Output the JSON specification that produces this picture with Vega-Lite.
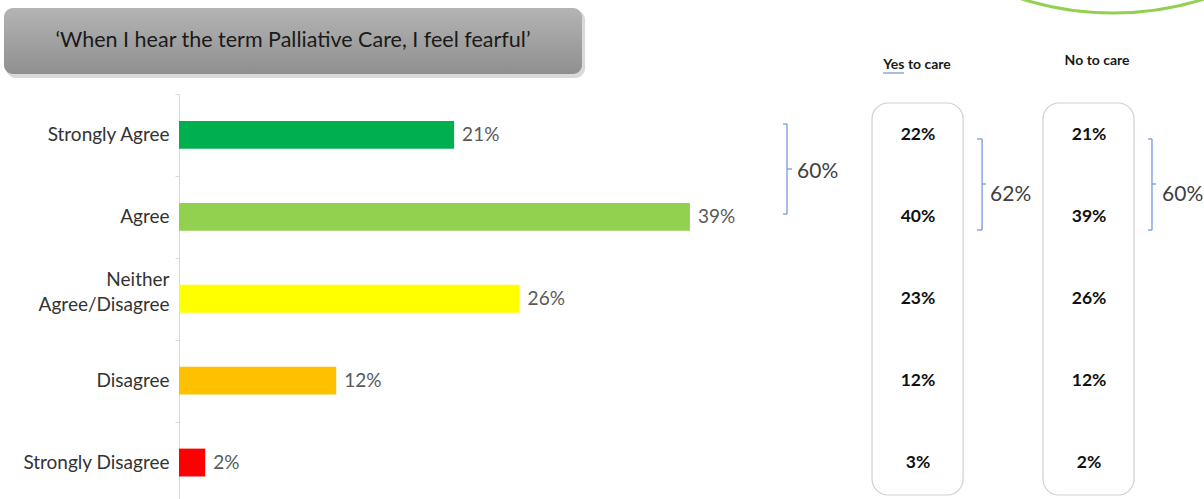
{
  "$schema": "https://vega.github.io/schema/vega-lite/v6.json",
  "width": 1025,
  "height": 499,
  "autosize": {"type": "none"},
  "padding": {"left": 179, "top": 0, "right": 0, "bottom": 0},
  "background": "white",
  "config": {"view": {"stroke": null}, "font": "Lato"},
  "datasets": {
    "overall": [
      {"response": "Strongly Agree", "pct": 21},
      {"response": "Agree", "pct": 39},
      {"response": "Neither Agree/Disagree", "pct": 26},
      {"response": "Disagree", "pct": 12},
      {"response": "Strongly Disagree", "pct": 2}
    ],
    "groups": [
      {"response": "Strongly Agree", "group": "Yes to care", "pct": 22},
      {"response": "Agree", "group": "Yes to care", "pct": 40},
      {"response": "Neither Agree/Disagree", "group": "Yes to care", "pct": 23},
      {"response": "Disagree", "group": "Yes to care", "pct": 12},
      {"response": "Strongly Disagree", "group": "Yes to care", "pct": 3},
      {"response": "Strongly Agree", "group": "No to care", "pct": 21},
      {"response": "Agree", "group": "No to care", "pct": 39},
      {"response": "Neither Agree/Disagree", "group": "No to care", "pct": 26},
      {"response": "Disagree", "group": "No to care", "pct": 12},
      {"response": "Strongly Disagree", "group": "No to care", "pct": 2}
    ]
  },
  "layer": [
    {
      "data": {"name": "overall"},
      "transform": [{"calculate": "datum.pct + '%'", "as": "label"}],
      "encoding": {
        "y": {
          "field": "response",
          "type": "nominal",
          "scale": {
            "domain": ["Strongly Agree", "Agree", "Neither Agree/Disagree", "Disagree", "Strongly Disagree"],
            "range": [94, 503.5],
            "paddingInner": 0,
            "paddingOuter": 0
          },
          "axis": {
            "title": null,
            "domainColor": "#d9d9d9",
            "domainWidth": 1,
            "tickColor": "#d9d9d9",
            "tickSize": 4,
            "tickBand": "extent",
            "labelFont": "Lato",
            "labelFontSize": 19,
            "labelColor": "#333333",
            "labelPadding": 6,
            "labelLimit": 0,
            "labelLineHeight": 25,
            "labelExpr": "datum.value == 'Neither Agree/Disagree' ? ['Neither', 'Agree/Disagree'] : datum.value",
            "labelOffset": {"condition": {"test": "datum.value == 'Neither Agree/Disagree'", "value": -19}, "value": 0}
          }
        }
      },
      "layer": [
        {
          "mark": {"type": "bar", "height": {"band": 0.34}},
          "encoding": {
            "x": {"field": "pct", "type": "quantitative", "scale": {"domain": [0, 78.24], "nice": false}, "axis": null},
            "color": {
              "field": "response",
              "type": "nominal",
              "scale": {
                "domain": ["Strongly Agree", "Agree", "Neither Agree/Disagree", "Disagree", "Strongly Disagree"],
                "range": ["#00b050", "#92d050", "#ffff00", "#ffc000", "#ff0000"]
              },
              "legend": null
            }
          }
        },
        {
          "mark": {"type": "text", "align": "left", "baseline": "middle", "dx": 8, "font": "Lato", "fontSize": 19, "color": "#595959"},
          "encoding": {
            "x": {"field": "pct", "type": "quantitative", "scale": {"domain": [0, 78.24], "nice": false}, "axis": null},
            "text": {"field": "label"}
          }
        },
        {
          "data": {"name": "groups"},
          "transform": [{"filter": "datum.group == 'Yes to care'"}, {"calculate": "datum.pct + '%'", "as": "label"}],
          "mark": {"type": "text", "align": "center", "baseline": "middle", "font": "Lato", "fontWeight": "bold", "fontSize": 17.5, "color": "#111111"},
          "encoding": {
            "x": {"datum": 56.41, "type": "quantitative", "scale": {"domain": [0, 78.24], "nice": false}, "axis": null},
            "text": {"field": "label"}
          }
        },
        {
          "data": {"name": "groups"},
          "transform": [{"filter": "datum.group == 'No to care'"}, {"calculate": "datum.pct + '%'", "as": "label"}],
          "mark": {"type": "text", "align": "center", "baseline": "middle", "font": "Lato", "fontWeight": "bold", "fontSize": 17.5, "color": "#111111"},
          "encoding": {
            "x": {"datum": 69.47, "type": "quantitative", "scale": {"domain": [0, 78.24], "nice": false}, "axis": null},
            "text": {"field": "label"}
          }
        }
      ]
    },
    {
      "data": {"values": [{}]},
      "layer": [
        {
          "mark": {"type": "rect", "color": "#000000", "opacity": 0.15, "cornerRadius": 10},
          "encoding": {
            "x": {"datum": -13.2, "type": "quantitative", "scale": {"domain": [0, 78.24], "nice": false}, "axis": null},
            "x2": {"datum": 31.0},
            "y": {"datum": 10, "type": "quantitative", "scale": {"domain": [0, 499], "range": [0, 499], "nice": false, "zero": false}, "axis": null},
            "y2": {"datum": 78}
          }
        },
        {
          "mark": {
            "type": "rect",
            "cornerRadius": 9,
            "color": {
              "gradient": "linear", "x1": 0, "y1": 0, "x2": 0, "y2": 1,
              "stops": [{"offset": 0, "color": "#b4b4b4"}, {"offset": 1, "color": "#8f8f8f"}]
            }
          },
          "encoding": {
            "x": {"datum": -13.36, "type": "quantitative", "scale": {"domain": [0, 78.24], "nice": false}, "axis": null},
            "x2": {"datum": 30.76},
            "y": {"datum": 8, "type": "quantitative", "scale": {"domain": [0, 499], "range": [0, 499], "nice": false, "zero": false}, "axis": null},
            "y2": {"datum": 74}
          }
        },
        {
          "mark": {"type": "text", "align": "center", "baseline": "middle", "font": "Lato", "fontSize": 21.5, "color": "#1a1a1a", "text": "‘When I hear the term Palliative Care, I feel fearful’"},
          "encoding": {
            "x": {"datum": 8.7, "type": "quantitative", "scale": {"domain": [0, 78.24], "nice": false}, "axis": null},
            "y": {"datum": 41, "type": "quantitative", "scale": {"domain": [0, 499], "range": [0, 499], "nice": false, "zero": false}, "axis": null}
          }
        },
        {
          "mark": {"type": "text", "align": "center", "baseline": "middle", "font": "Lato", "fontWeight": "bold", "fontSize": 14, "color": "#1a1a1a", "text": "Yes to care"},
          "encoding": {
            "x": {"datum": 56.34, "type": "quantitative", "scale": {"domain": [0, 78.24], "nice": false}, "axis": null},
            "y": {"datum": 65, "type": "quantitative", "scale": {"domain": [0, 499], "range": [0, 499], "nice": false, "zero": false}, "axis": null}
          }
        },
        {
          "mark": {"type": "rule", "color": "#8fa8d8", "strokeWidth": 1.5},
          "encoding": {
            "x": {"datum": 53.74, "type": "quantitative", "scale": {"domain": [0, 78.24], "nice": false}, "axis": null},
            "x2": {"datum": 55.34},
            "y": {"datum": 73, "type": "quantitative", "scale": {"domain": [0, 499], "range": [0, 499], "nice": false, "zero": false}, "axis": null}
          }
        },
        {
          "mark": {"type": "text", "align": "center", "baseline": "middle", "font": "Lato", "fontWeight": "bold", "fontSize": 14, "color": "#1a1a1a", "text": "No to care"},
          "encoding": {
            "x": {"datum": 70.08, "type": "quantitative", "scale": {"domain": [0, 78.24], "nice": false}, "axis": null},
            "y": {"datum": 61, "type": "quantitative", "scale": {"domain": [0, 499], "range": [0, 499], "nice": false, "zero": false}, "axis": null}
          }
        },
        {
          "mark": {"type": "rect", "fill": null, "fillOpacity": 0, "stroke": "#d0d0d0", "strokeWidth": 1.2, "cornerRadius": 16},
          "encoding": {
            "x": {"datum": 52.9, "type": "quantitative", "scale": {"domain": [0, 78.24], "nice": false}, "axis": null},
            "x2": {"datum": 59.85},
            "y": {"datum": 103, "type": "quantitative", "scale": {"domain": [0, 499], "range": [0, 499], "nice": false, "zero": false}, "axis": null},
            "y2": {"datum": 495}
          }
        },
        {
          "mark": {"type": "rect", "fill": null, "fillOpacity": 0, "stroke": "#d0d0d0", "strokeWidth": 1.2, "cornerRadius": 16},
          "encoding": {
            "x": {"datum": 65.95, "type": "quantitative", "scale": {"domain": [0, 78.24], "nice": false}, "axis": null},
            "x2": {"datum": 72.9},
            "y": {"datum": 103, "type": "quantitative", "scale": {"domain": [0, 499], "range": [0, 499], "nice": false, "zero": false}, "axis": null},
            "y2": {"datum": 495}
          }
        },
        {
          "mark": {"type": "rule", "color": "#7399dd", "strokeWidth": 1.3},
          "encoding": {
            "x": {"datum": 46.41, "type": "quantitative", "scale": {"domain": [0, 78.24], "nice": false}, "axis": null},
            "y": {"datum": 124, "type": "quantitative", "scale": {"domain": [0, 499], "range": [0, 499], "nice": false, "zero": false}, "axis": null},
            "y2": {"datum": 214}
          }
        },
        {
          "mark": {"type": "rule", "color": "#7399dd", "strokeWidth": 1.3},
          "encoding": {
            "x": {"datum": 46.11, "type": "quantitative", "scale": {"domain": [0, 78.24], "nice": false}, "axis": null},
            "x2": {"datum": 46.41},
            "y": {"datum": 124, "type": "quantitative", "scale": {"domain": [0, 499], "range": [0, 499], "nice": false, "zero": false}, "axis": null}
          }
        },
        {
          "mark": {"type": "rule", "color": "#7399dd", "strokeWidth": 1.3},
          "encoding": {
            "x": {"datum": 46.11, "type": "quantitative", "scale": {"domain": [0, 78.24], "nice": false}, "axis": null},
            "x2": {"datum": 46.41},
            "y": {"datum": 214, "type": "quantitative", "scale": {"domain": [0, 499], "range": [0, 499], "nice": false, "zero": false}, "axis": null}
          }
        },
        {
          "mark": {"type": "rule", "color": "#7399dd", "strokeWidth": 1.3},
          "encoding": {
            "x": {"datum": 46.41, "type": "quantitative", "scale": {"domain": [0, 78.24], "nice": false}, "axis": null},
            "x2": {"datum": 46.79},
            "y": {"datum": 169, "type": "quantitative", "scale": {"domain": [0, 499], "range": [0, 499], "nice": false, "zero": false}, "axis": null}
          }
        },
        {
          "mark": {"type": "text", "align": "left", "baseline": "middle", "font": "Lato", "fontSize": 21, "color": "#404040", "text": "60%"},
          "encoding": {
            "x": {"datum": 47.18, "type": "quantitative", "scale": {"domain": [0, 78.24], "nice": false}, "axis": null},
            "y": {"datum": 172, "type": "quantitative", "scale": {"domain": [0, 499], "range": [0, 499], "nice": false, "zero": false}, "axis": null}
          }
        },
        {
          "mark": {"type": "rule", "color": "#7399dd", "strokeWidth": 1.3},
          "encoding": {
            "x": {"datum": 61.3, "type": "quantitative", "scale": {"domain": [0, 78.24], "nice": false}, "axis": null},
            "y": {"datum": 139, "type": "quantitative", "scale": {"domain": [0, 499], "range": [0, 499], "nice": false, "zero": false}, "axis": null},
            "y2": {"datum": 230}
          }
        },
        {
          "mark": {"type": "rule", "color": "#7399dd", "strokeWidth": 1.3},
          "encoding": {
            "x": {"datum": 60.92, "type": "quantitative", "scale": {"domain": [0, 78.24], "nice": false}, "axis": null},
            "x2": {"datum": 61.3},
            "y": {"datum": 139, "type": "quantitative", "scale": {"domain": [0, 499], "range": [0, 499], "nice": false, "zero": false}, "axis": null}
          }
        },
        {
          "mark": {"type": "rule", "color": "#7399dd", "strokeWidth": 1.3},
          "encoding": {
            "x": {"datum": 60.92, "type": "quantitative", "scale": {"domain": [0, 78.24], "nice": false}, "axis": null},
            "x2": {"datum": 61.3},
            "y": {"datum": 230, "type": "quantitative", "scale": {"domain": [0, 499], "range": [0, 499], "nice": false, "zero": false}, "axis": null}
          }
        },
        {
          "mark": {"type": "rule", "color": "#7399dd", "strokeWidth": 1.3},
          "encoding": {
            "x": {"datum": 61.3, "type": "quantitative", "scale": {"domain": [0, 78.24], "nice": false}, "axis": null},
            "x2": {"datum": 61.6},
            "y": {"datum": 184, "type": "quantitative", "scale": {"domain": [0, 499], "range": [0, 499], "nice": false, "zero": false}, "axis": null}
          }
        },
        {
          "mark": {"type": "text", "align": "left", "baseline": "middle", "font": "Lato", "fontSize": 21, "color": "#404040", "text": "62%"},
          "encoding": {
            "x": {"datum": 61.91, "type": "quantitative", "scale": {"domain": [0, 78.24], "nice": false}, "axis": null},
            "y": {"datum": 195, "type": "quantitative", "scale": {"domain": [0, 499], "range": [0, 499], "nice": false, "zero": false}, "axis": null}
          }
        },
        {
          "mark": {"type": "rule", "color": "#7399dd", "strokeWidth": 1.3},
          "encoding": {
            "x": {"datum": 74.27, "type": "quantitative", "scale": {"domain": [0, 78.24], "nice": false}, "axis": null},
            "y": {"datum": 139, "type": "quantitative", "scale": {"domain": [0, 499], "range": [0, 499], "nice": false, "zero": false}, "axis": null},
            "y2": {"datum": 230}
          }
        },
        {
          "mark": {"type": "rule", "color": "#7399dd", "strokeWidth": 1.3},
          "encoding": {
            "x": {"datum": 73.97, "type": "quantitative", "scale": {"domain": [0, 78.24], "nice": false}, "axis": null},
            "x2": {"datum": 74.27},
            "y": {"datum": 139, "type": "quantitative", "scale": {"domain": [0, 499], "range": [0, 499], "nice": false, "zero": false}, "axis": null}
          }
        },
        {
          "mark": {"type": "rule", "color": "#7399dd", "strokeWidth": 1.3},
          "encoding": {
            "x": {"datum": 73.97, "type": "quantitative", "scale": {"domain": [0, 78.24], "nice": false}, "axis": null},
            "x2": {"datum": 74.27},
            "y": {"datum": 230, "type": "quantitative", "scale": {"domain": [0, 499], "range": [0, 499], "nice": false, "zero": false}, "axis": null}
          }
        },
        {
          "mark": {"type": "rule", "color": "#7399dd", "strokeWidth": 1.3},
          "encoding": {
            "x": {"datum": 74.27, "type": "quantitative", "scale": {"domain": [0, 78.24], "nice": false}, "axis": null},
            "x2": {"datum": 74.58},
            "y": {"datum": 184, "type": "quantitative", "scale": {"domain": [0, 499], "range": [0, 499], "nice": false, "zero": false}, "axis": null}
          }
        },
        {
          "mark": {"type": "text", "align": "left", "baseline": "middle", "font": "Lato", "fontSize": 21, "color": "#404040", "text": "60%"},
          "encoding": {
            "x": {"datum": 75.04, "type": "quantitative", "scale": {"domain": [0, 78.24], "nice": false}, "axis": null},
            "y": {"datum": 195, "type": "quantitative", "scale": {"domain": [0, 499], "range": [0, 499], "nice": false, "zero": false}, "axis": null}
          }
        },
        {
          "mark": {"type": "point", "shape": "circle", "filled": false, "stroke": "#92d050", "strokeWidth": 3, "opacity": 1, "size": 369664},
          "encoding": {
            "x": {"datum": 71.3, "type": "quantitative", "scale": {"domain": [0, 78.24], "nice": false}, "axis": null},
            "y": {"datum": -291, "type": "quantitative", "scale": {"domain": [0, 499], "range": [0, 499], "nice": false, "zero": false}, "axis": null}
          }
        }
      ]
    }
  ],
  "resolve": {"scale": {"y": "independent"}}
}
